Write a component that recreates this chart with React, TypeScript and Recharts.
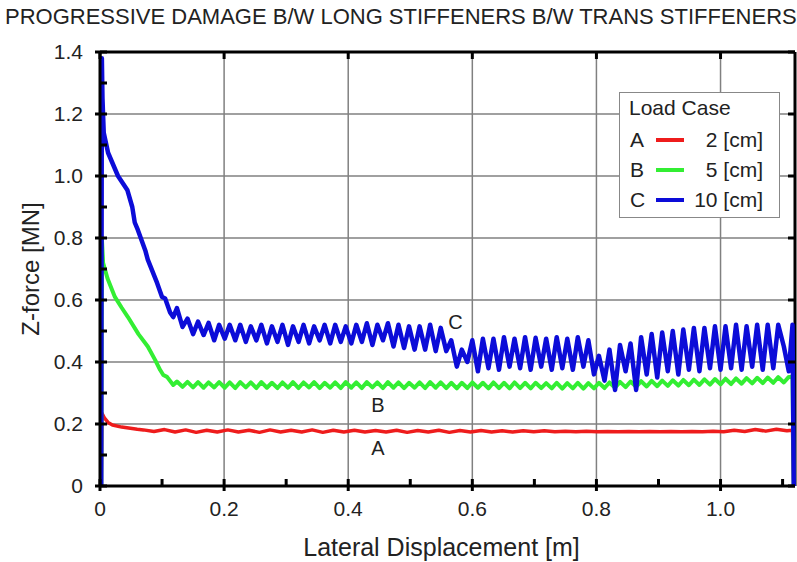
import { LineChart, Line, XAxis, YAxis, CartesianGrid, ReferenceDot, ReferenceLine } from 'recharts';

const FONT = '"Liberation Sans", Arial, Helvetica, sans-serif';
const PLOT_W = 695;
const PLOT_H = 434;

const title = 'PROGRESSIVE DAMAGE B/W LONG STIFFENERS B/W TRANS STIFFENERS';
const xTicks = [0, 0.1, 0.2, 0.3, 0.4, 0.5, 0.6, 0.7, 0.8, 0.9, 1.0, 1.1];
const yTicks = [0, 0.1, 0.2, 0.3, 0.4, 0.5, 0.6, 0.7, 0.8, 0.9, 1.0, 1.1, 1.2, 1.3, 1.4];

const legendKeys = ['A', 'B', 'C'];
const legendValues = ['2 [cm]', '5 [cm]', '10 [cm]'];
const colors = ['#ee1c1c', '#33ee33', '#0c0cd8'];

// shared sampling positions of the oscillating part (B and C)
const waveX = [
  0.124, 0.133, 0.141, 0.150, 0.158, 0.167, 0.175, 0.184, 0.192, 0.201,
  0.209, 0.218, 0.226, 0.235, 0.243, 0.252, 0.260, 0.269, 0.277, 0.286,
  0.294, 0.303, 0.311, 0.320, 0.328, 0.337, 0.345, 0.354, 0.362, 0.371,
  0.379, 0.388, 0.396, 0.405, 0.413, 0.422, 0.430, 0.439, 0.447, 0.456,
  0.464, 0.473, 0.481, 0.490, 0.498, 0.507, 0.515, 0.524, 0.532, 0.541,
  0.549, 0.558, 0.566, 0.575, 0.583, 0.592, 0.600, 0.609, 0.617, 0.626,
  0.634, 0.643, 0.651, 0.660, 0.668, 0.677, 0.685, 0.694, 0.702, 0.711,
  0.719, 0.728, 0.736, 0.745, 0.753, 0.762, 0.770, 0.779, 0.787, 0.796,
  0.804, 0.813, 0.821, 0.830, 0.838, 0.847, 0.855, 0.864, 0.872, 0.881,
  0.889, 0.898, 0.906, 0.915, 0.923, 0.932, 0.940, 0.949, 0.957, 0.966,
  0.974, 0.983, 0.991, 1.000, 1.008, 1.017, 1.025, 1.034, 1.042, 1.051,
  1.059, 1.068, 1.076, 1.085, 1.093, 1.102, 1.110,
];

// C - 10 cm
const cRampX = [0.002, 0.003, 0.004, 0.006, 0.013, 0.029, 0.044, 0.052, 0.056, 0.061, 0.073, 0.077, 0.092, 0.1, 0.105, 0.113, 0.118];
const cRampY = [0, 1.38, 1.25, 1.14, 1.075, 1.0, 0.955, 0.9, 0.85, 0.826, 0.76, 0.73, 0.655, 0.61, 0.605, 0.56, 0.545];
const cWave = [
  0.574, 0.513, 0.540, 0.490, 0.530, 0.487, 0.526, 0.470, 0.520, 0.475,
  0.520, 0.470, 0.520, 0.465, 0.515, 0.470, 0.520, 0.460, 0.515, 0.465,
  0.520, 0.455, 0.515, 0.465, 0.520, 0.460, 0.515, 0.470, 0.520, 0.460,
  0.520, 0.465, 0.515, 0.460, 0.520, 0.465, 0.525, 0.455, 0.520, 0.470,
  0.525, 0.450, 0.520, 0.445, 0.515, 0.440, 0.515, 0.440, 0.520, 0.435,
  0.510, 0.435, 0.470, 0.385, 0.440, 0.400, 0.470, 0.370, 0.475, 0.380,
  0.475, 0.375, 0.480, 0.385, 0.475, 0.380, 0.480, 0.375, 0.478, 0.385,
  0.475, 0.375, 0.480, 0.380, 0.475, 0.375, 0.480, 0.385, 0.470, 0.360,
  0.420, 0.340, 0.440, 0.310, 0.455, 0.370, 0.460, 0.310, 0.480, 0.360,
  0.490, 0.350, 0.495, 0.370, 0.500, 0.360, 0.505, 0.375, 0.510, 0.370,
  0.510, 0.380, 0.515, 0.375, 0.515, 0.380, 0.520, 0.375, 0.515, 0.385,
  0.520, 0.375, 0.520, 0.380, 0.520, 0.450, 0.370,
];
const cTailX = [1.116, 1.118];
const cTailY = [0.52, 0];

// B - 5 cm
const bRampX = [0.002, 0.003, 0.005, 0.012, 0.024, 0.035, 0.045, 0.062, 0.077, 0.089, 0.097, 0.102, 0.108, 0.118];
const bRampY = [0, 0.8, 0.72, 0.67, 0.61, 0.575, 0.545, 0.49, 0.45, 0.406, 0.374, 0.358, 0.352, 0.326];
const bWave = [
  0.337, 0.320, 0.336, 0.318, 0.335, 0.317, 0.334, 0.318, 0.335, 0.317,
  0.334, 0.316, 0.335, 0.318, 0.334, 0.316, 0.335, 0.317, 0.333, 0.316,
  0.334, 0.317, 0.335, 0.316, 0.334, 0.318, 0.335, 0.316, 0.333, 0.317,
  0.334, 0.316, 0.335, 0.317, 0.334, 0.316, 0.335, 0.318, 0.334, 0.316,
  0.335, 0.317, 0.334, 0.316, 0.333, 0.317, 0.334, 0.316, 0.335, 0.317,
  0.334, 0.316, 0.333, 0.315, 0.333, 0.316, 0.334, 0.317, 0.333, 0.315,
  0.334, 0.316, 0.333, 0.315, 0.334, 0.316, 0.333, 0.315, 0.333, 0.316,
  0.332, 0.315, 0.333, 0.314, 0.332, 0.315, 0.333, 0.314, 0.332, 0.315,
  0.333, 0.316, 0.334, 0.317, 0.336, 0.319, 0.337, 0.320, 0.338, 0.321,
  0.339, 0.322, 0.340, 0.323, 0.341, 0.324, 0.342, 0.325, 0.343, 0.326,
  0.344, 0.327, 0.345, 0.328, 0.346, 0.329, 0.347, 0.330, 0.348, 0.331,
  0.349, 0.332, 0.350, 0.333, 0.351, 0.334, 0.352,
];
const bTailX = [1.116, 1.118];
const bTailY = [0.352, 0];

// A - 2 cm
const aX = [
  0.002, 0.003, 0.007, 0.013, 0.02, 0.035, 0.06,
  0.070, 0.087, 0.104, 0.121, 0.138, 0.155, 0.172, 0.189, 0.206, 0.223,
  0.240, 0.257, 0.274, 0.291, 0.308, 0.325, 0.342, 0.359, 0.376, 0.393,
  0.410, 0.427, 0.444, 0.461, 0.478, 0.495, 0.512, 0.529, 0.546, 0.563,
  0.580, 0.597, 0.614, 0.631, 0.648, 0.665, 0.682, 0.699, 0.716, 0.733,
  0.750, 0.767, 0.784, 0.801, 0.818, 0.835, 0.852, 0.869, 0.886, 0.903,
  0.920, 0.937, 0.954, 0.971, 0.988, 1.005, 1.022, 1.039, 1.056, 1.073,
  1.090, 1.107, 1.116, 1.118,
];
const aY = [
  0, 0.235, 0.22, 0.205, 0.197, 0.19, 0.183,
  0.181, 0.176, 0.182, 0.174, 0.181, 0.173, 0.180, 0.174, 0.181, 0.174,
  0.180, 0.173, 0.181, 0.174, 0.180, 0.174, 0.181, 0.173, 0.180, 0.174,
  0.180, 0.174, 0.179, 0.174, 0.180, 0.173, 0.179, 0.174, 0.180, 0.173,
  0.179, 0.174, 0.179, 0.174, 0.178, 0.174, 0.178, 0.175, 0.178, 0.175,
  0.177, 0.175, 0.177, 0.175, 0.176, 0.175, 0.176, 0.175, 0.176, 0.175,
  0.176, 0.175, 0.176, 0.175, 0.177, 0.175, 0.180, 0.176, 0.182, 0.177,
  0.183, 0.178, 0.18, 0,
];

const curveLabels = [
  { text: 'C', x: 0.573, y: 0.529 },
  { text: 'B', x: 0.448, y: 0.261 },
  { text: 'A', x: 0.448, y: 0.123 },
];

const pts = (xs: number[], ys: number[]) => xs.map((x, i) => ({ x, y: ys[i] }));

const dataA = pts(aX, aY);
const dataB = [...pts(bRampX, bRampY), ...pts(waveX, bWave), ...pts(bTailX, bTailY)];
const dataC = [...pts(cRampX, cRampY), ...pts(waveX, cWave), ...pts(cTailX, cTailY)];

const isMajor = (v: number) => Math.round(v * 10) % 2 === 0;
const fmt = (v: number) => (v === 0 ? '0' : v.toFixed(1));
const heavy = { stroke: '#000', strokeWidth: 3 };

// x tick: inward tick at bottom and top, label below for major ticks
const XTick = (props: any) => {
  const { x, y, payload } = props;
  const v = payload.value;
  const major = isMajor(v);
  const top = y - PLOT_H;
  return (
    <g>
      <line x1={x} x2={x} y1={y - 7} y2={major ? y + 5 : y} stroke="#000" strokeWidth={3} />
      {major && <line x1={x} x2={x} y1={top} y2={top + 7} stroke="#000" strokeWidth={3} />}
      {major && (
        <text x={x} y={y + 15} dy="0.71em" textAnchor="middle" fontSize={21} fill="#222" fontFamily={FONT}>
          {fmt(v)}
        </text>
      )}
    </g>
  );
};

// y tick: inward tick at left and right, label on the left for major ticks
const YTick = (props: any) => {
  const { x, y, payload } = props;
  const v = payload.value;
  const major = isMajor(v);
  const right = x + PLOT_W;
  return (
    <g>
      <line x1={major ? x - 5 : x} x2={x + 7} y1={y} y2={y} stroke="#000" strokeWidth={3} />
      {major && <line x1={right - 7} x2={right} y1={y} y2={y} stroke="#000" strokeWidth={3} />}
      {major && (
        <text x={x - 17} y={y} dy="0.355em" textAnchor="end" fontSize={21} fill="#222" fontFamily={FONT}>
          {fmt(v)}
        </text>
      )}
    </g>
  );
};

const YTitle = (props: any) => {
  const vb = props.viewBox || { x: 0, y: 52, height: 434 };
  const cx = vb.x + 30;
  const cy = vb.y + vb.height / 2;
  return (
    <text x={cx} y={cy} transform={`rotate(-90 ${cx} ${cy})`} textAnchor="middle" dominantBaseline="central"
      fontSize={24} fill="#222" fontFamily={FONT}>Z-force [MN]</text>
  );
};

const XTitle = (props: any) => {
  const vb = props.viewBox || { x: 100, y: 486, width: 695 };
  return (
    <text x={vb.x + vb.width / 2 - 6} y={vb.y + 70} textAnchor="middle"
      fontSize={25} fill="#222" fontFamily={FONT}>Lateral Displacement [m]</text>
  );
};

export default function App() {
  return (
    <div style={{ position: 'absolute', left: 0, top: 0, width: 797, height: 562, background: '#fff', fontFamily: FONT }}>
      <div style={{ position: 'absolute', left: 5, top: 6, fontSize: 22, lineHeight: '22px', color: '#222', whiteSpace: 'nowrap' }}>
        {title}
      </div>
      <LineChart width={797} height={562} margin={{ top: 52, right: 2, bottom: 0, left: 0 }}>
        <CartesianGrid stroke="#808080" strokeWidth={1.5}
          verticalValues={[0.2, 0.4, 0.6, 0.8, 1.0]} horizontalValues={[0.2, 0.4, 0.6, 0.8, 1.0, 1.2]} />
        <XAxis dataKey="x" type="number" domain={[0, 1.12]} ticks={xTicks} interval={0}
          height={76} tickSize={0} tickMargin={0} axisLine={heavy} tickLine={false} tick={<XTick />}
          label={<XTitle />} />
        <YAxis type="number" domain={[0, 1.4]} ticks={yTicks} interval={0}
          width={100} tickSize={0} tickMargin={0} axisLine={heavy} tickLine={false} tick={<YTick />}
          label={<YTitle />} />
        <ReferenceLine y={1.4} stroke="#000" strokeWidth={3} />
        <ReferenceLine x={1.12} stroke="#000" strokeWidth={3} />
        <Line data={dataA} dataKey="y" type="linear" stroke={colors[0]} strokeWidth={3.5} dot={false}
          strokeLinejoin="round" isAnimationActive={false} />
        <Line data={dataB} dataKey="y" type="linear" stroke={colors[1]} strokeWidth={4} dot={false}
          strokeLinejoin="round" isAnimationActive={false} />
        <Line data={dataC} dataKey="y" type="linear" stroke={colors[2]} strokeWidth={4.5} dot={false}
          strokeLinejoin="round" isAnimationActive={false} />
        {curveLabels.map((l) => (
          <ReferenceDot key={l.text} x={l.x} y={l.y} r={1} fill="none" stroke="none"
            label={{ value: l.text, position: 'center', fontSize: 20, fill: '#222', fontFamily: FONT }} />
        ))}
      </LineChart>
      <div style={{ position: 'absolute', left: 619, top: 92, width: 159, height: 124, border: '1.5px solid #888', background: '#fff', fontSize: 21, color: '#222' }}>
        <div style={{ position: 'absolute', left: 9, top: 2, lineHeight: '26px' }}>Load Case</div>
        {legendKeys.map((k, i) => (
          <div key={k} style={{ position: 'absolute', left: 0, top: 34 + i * 30, width: 159, height: 26, lineHeight: '26px' }}>
            <span style={{ position: 'absolute', left: 10 }}>{k}</span>
            <span style={{ position: 'absolute', left: 36, top: 11, width: 28, height: 4, background: colors[i] }} />
            <span style={{ position: 'absolute', right: 16 }}>{legendValues[i]}</span>
          </div>
        ))}
      </div>
    </div>
  );
}
